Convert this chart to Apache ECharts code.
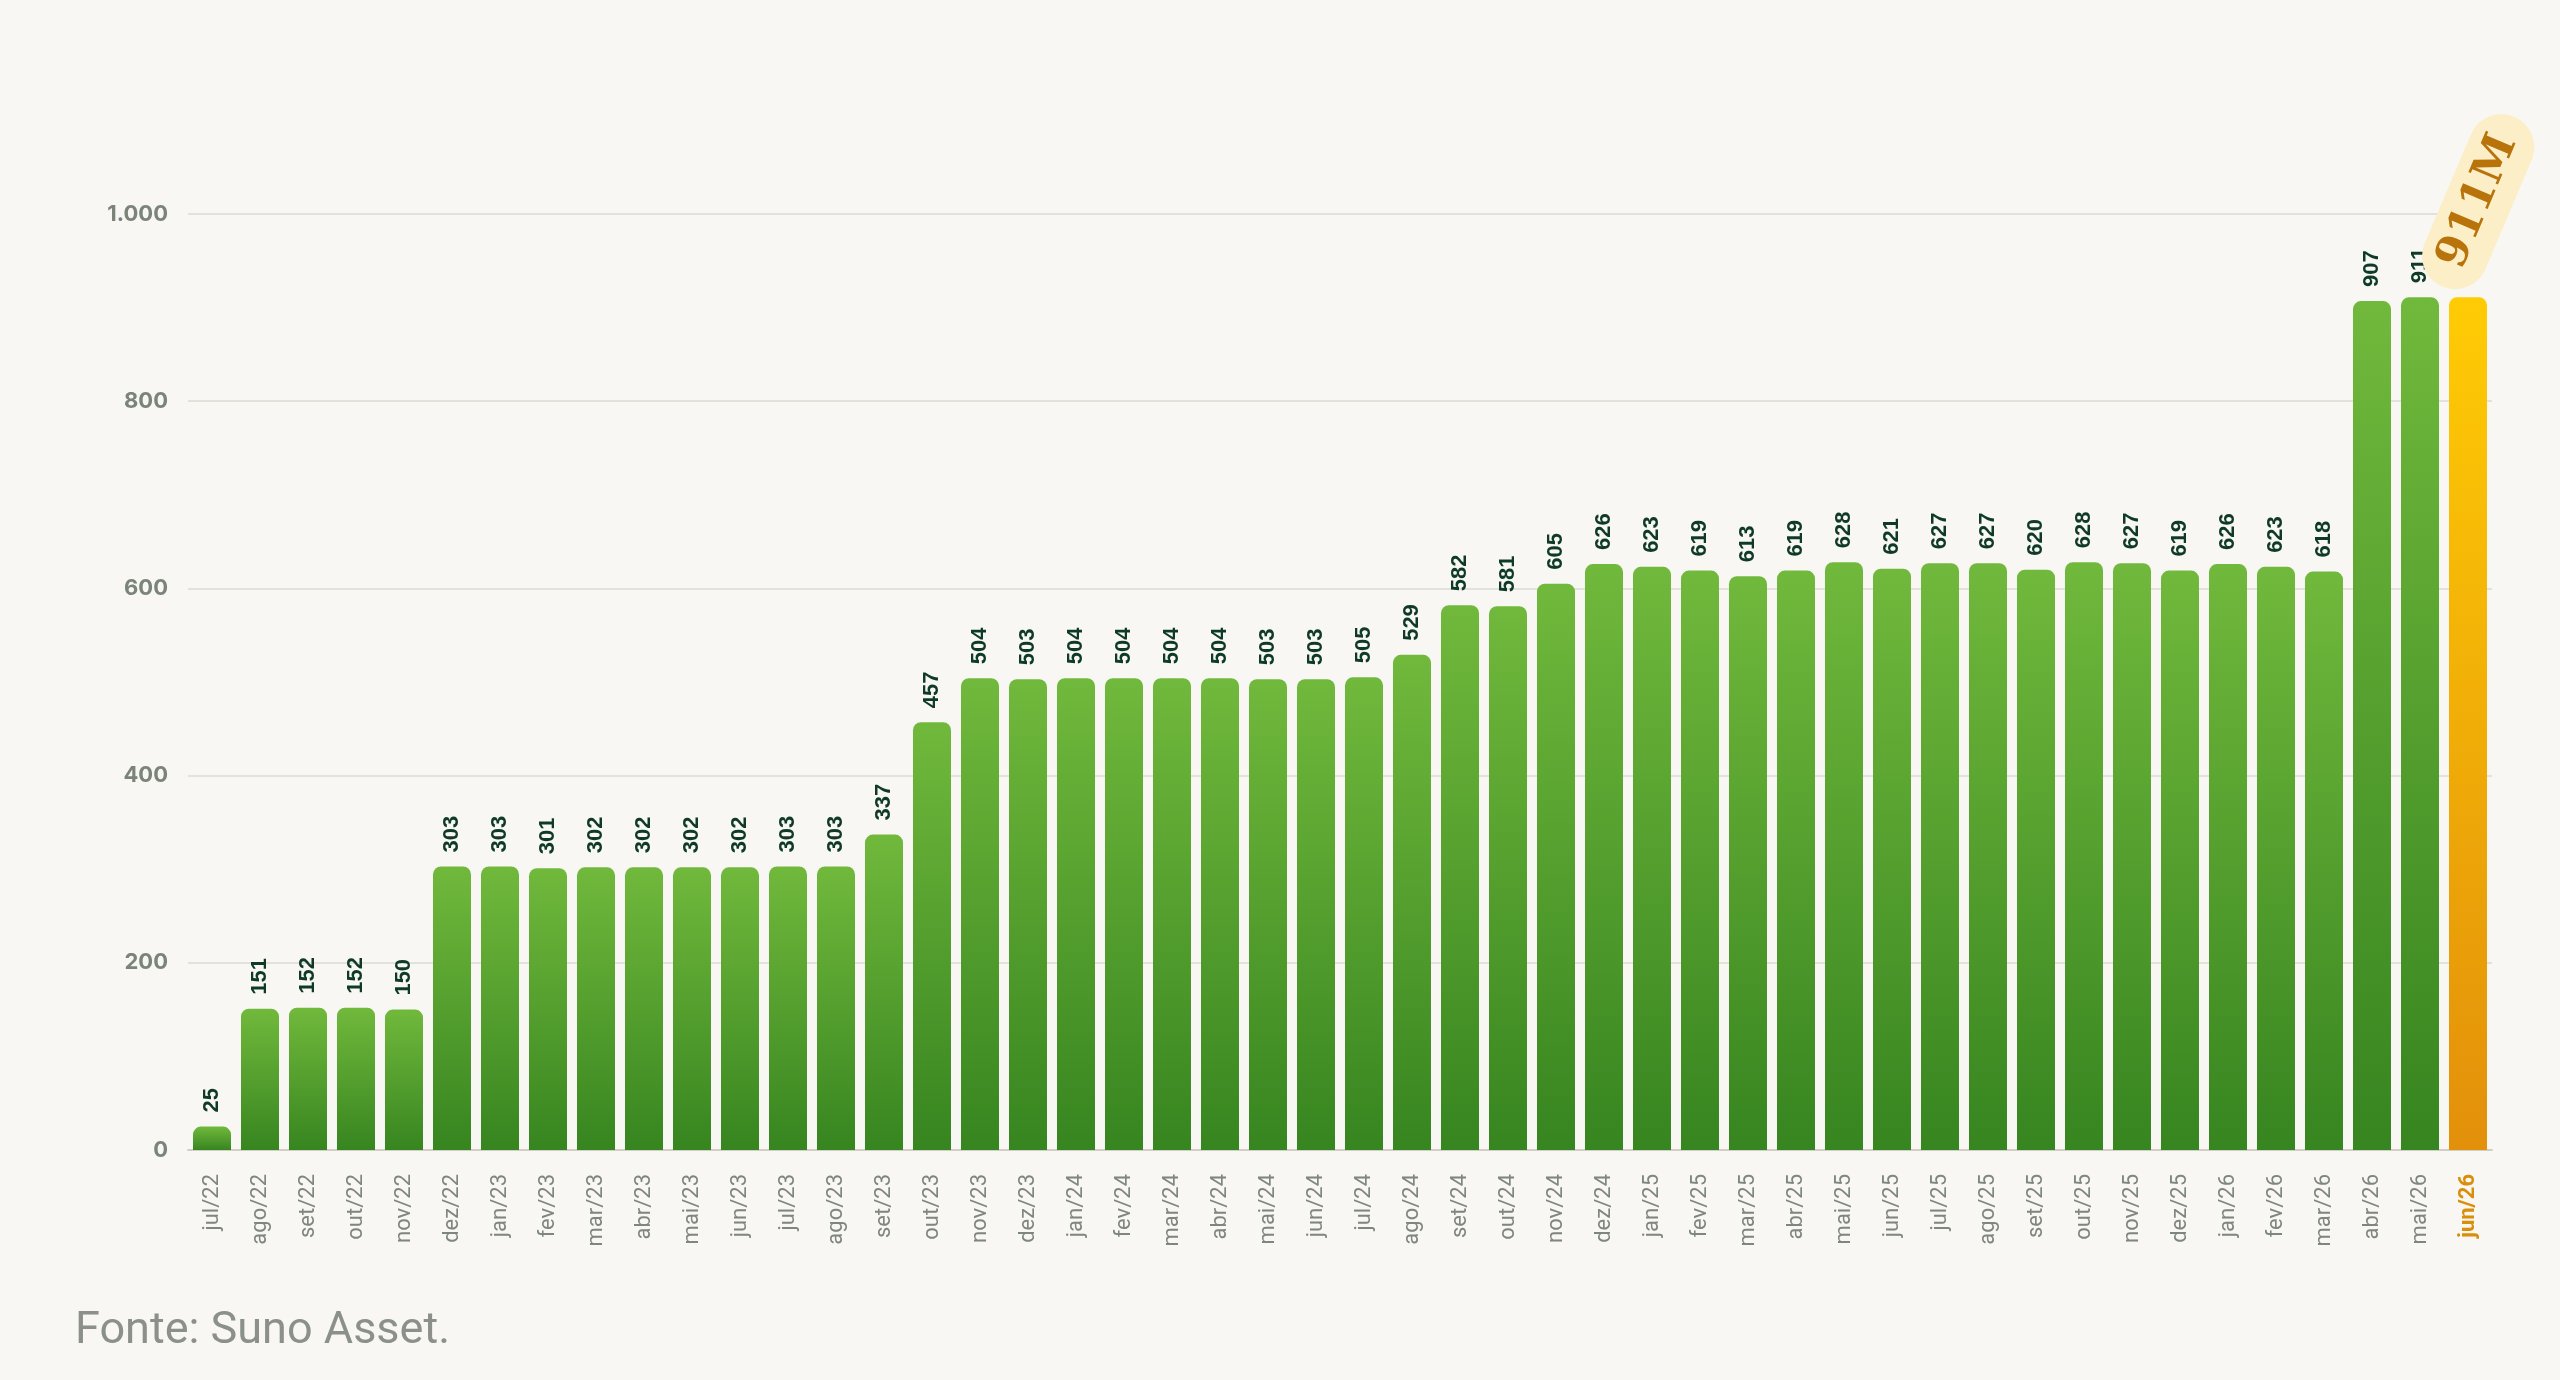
<!DOCTYPE html>
<html>
<head>
    <meta charset="utf-8">
    <title>Suno Asset</title>
    <style>
        html, body { margin: 0; padding: 0; background: #f8f7f3; }
        #main { width: 2560px; height: 1380px; }
    </style>
</head>
<body>
    <div id="main"></div>
    <script src="https://cdn.jsdelivr.net/npm/echarts@6/dist/echarts.min.js"></script>
    <script type="text/javascript">

        const MONTHS = [
            'jul/22', 'ago/22', 'set/22', 'out/22', 'nov/22', 'dez/22',
            'jan/23', 'fev/23', 'mar/23', 'abr/23', 'mai/23', 'jun/23',
            'jul/23', 'ago/23', 'set/23', 'out/23', 'nov/23', 'dez/23',
            'jan/24', 'fev/24', 'mar/24', 'abr/24', 'mai/24', 'jun/24',
            'jul/24', 'ago/24', 'set/24', 'out/24', 'nov/24', 'dez/24',
            'jan/25', 'fev/25', 'mar/25', 'abr/25', 'mai/25', 'jun/25',
            'jul/25', 'ago/25', 'set/25', 'out/25', 'nov/25', 'dez/25',
            'jan/26', 'fev/26', 'mar/26', 'abr/26', 'mai/26', 'jun/26'
        ];
        const VALUES = [
            25, 151, 152, 152, 150, 303,
            303, 301, 302, 302, 302, 302,
            303, 303, 337, 457, 504, 503,
            504, 504, 504, 504, 503, 503,
            505, 529, 582, 581, 605, 626,
            623, 619, 613, 619, 628, 621,
            627, 627, 620, 628, 627, 619,
            626, 623, 618, 907, 911, 911
        ];
        const Y_TICKS = [0, 200, 400, 600, 800, 1000];
        const HIGHLIGHT_LABEL = '911M';
        const SOURCE = 'Fonte: Suno Asset.';

        const lastIdx = MONTHS.length - 1;

        function greenBar() {
            return new echarts.graphic.LinearGradient(0, 0, 0, 1, [
                {offset: 0, color: '#71b93c'},
                {offset: 1, color: '#378520'}
            ]);
        }

        function yellowBar() {
            return new echarts.graphic.LinearGradient(0, 0, 0, 1, [
                {offset: 0, color: '#ffcb05'},
                {offset: 1, color: '#e2900a'}
            ]);
        }

        // categorias: o último mês fica em destaque
        const xData = MONTHS.map(function (m, i) {
            if (i === lastIdx) {
                return {value: m, textStyle: {color: '#d98f0c', fontWeight: 'bold'}};
            }
            return m;
        });

        const barData = VALUES.map(function (v, i) {
            if (i === lastIdx) {
                return {value: v, itemStyle: {color: yellowBar()}, label: {show: false}};
            }
            return {value: v};
        });

        let myChart = echarts.init(document.getElementById('main'));

        const option = {
            backgroundColor: '#f8f7f3',
            animation: false,
            title: {
                text: SOURCE,
                left: 70,
                top: 1304,
                textStyle: {
                    fontFamily: 'Roboto',
                    fontSize: 45,
                    fontWeight: 'normal',
                    color: '#8b9089'
                }
            },
            grid: {
                left: 188,
                right: 68,
                top: 214,
                bottom: 230,
                containLabel: false
            },
            xAxis: {
                type: 'category',
                data: xData,
                axisTick: {show: false},
                axisLine: {lineStyle: {color: '#cfcfc6', width: 2}},
                axisLabel: {
                    interval: 0,
                    rotate: 90,
                    margin: 24,
                    fontFamily: 'Roboto',
                    fontSize: 22,
                    color: '#7f867e'
                }
            },
            yAxis: {
                type: 'value',
                min: Y_TICKS[0],
                max: Y_TICKS[Y_TICKS.length - 1],
                interval: Y_TICKS[1] - Y_TICKS[0],
                axisLine: {show: false},
                axisTick: {show: false},
                splitLine: {lineStyle: {color: '#dcdbd2', width: 1.5}},
                axisLabel: {
                    margin: 20,
                    fontFamily: 'Inter',
                    fontSize: 22,
                    fontWeight: 'bold',
                    color: '#7b8479',
                    formatter: function (v) {
                        return v.toLocaleString('pt-BR');
                    }
                }
            },
            series: [
                {
                    type: 'bar',
                    data: barData,
                    barWidth: 38,
                    itemStyle: {
                        color: greenBar(),
                        borderRadius: [8, 8, 0, 0]
                    },
                    label: {
                        show: true,
                        position: 'top',
                        rotate: 90,
                        align: 'left',
                        verticalAlign: 'middle',
                        distance: 14,
                        fontFamily: 'Liberation Sans',
                        fontSize: 22,
                        fontWeight: 'bold',
                        color: '#0e3a26'
                    },
                    labelLayout: {
                        rotate: 90
                    },
                    markPoint: {
                        symbol: 'circle',
                        symbolSize: 1,
                        itemStyle: {color: 'rgba(0,0,0,0)'},
                        label: {
                            show: true,
                            formatter: HIGHLIGHT_LABEL,
                            position: 'inside',
                            rotate: 67,
                            offset: [92, -28],
                            fontFamily: 'DejaVu Serif',
                            fontWeight: 'bold',
                            fontSize: 44,
                            color: '#b8730a',
                            backgroundColor: '#fcefc8',
                            borderRadius: 34,
                            padding: [11, 22]
                        },
                        data: [
                            {coord: [lastIdx, VALUES[lastIdx]]}
                        ]
                    }
                }
            ]
        };

        myChart.setOption(option);

    </script>
</body>
</html>
